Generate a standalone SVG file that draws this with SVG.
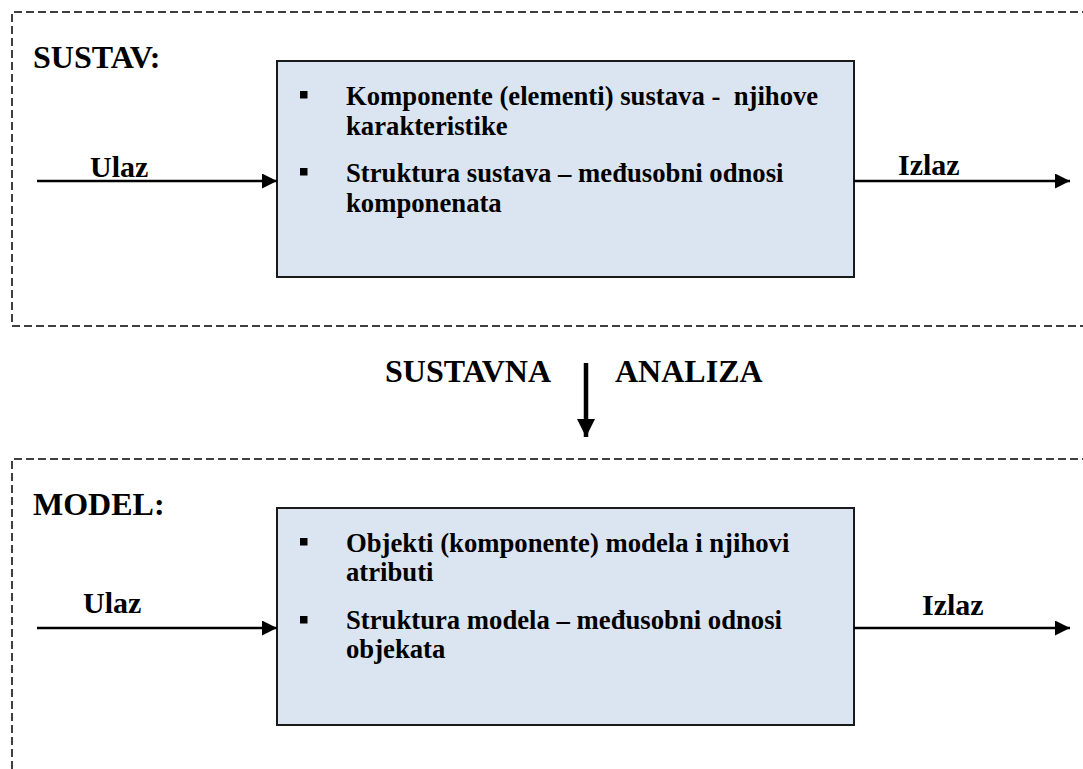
<svg xmlns="http://www.w3.org/2000/svg" width="1083" height="769" viewBox="0 0 1083 769">
<style>
  .frame { fill: none; stroke: #000; stroke-width: 1.5; stroke-dasharray: 8 4; }
  .box { fill: #DBE5F1; stroke: #1a1a1a; stroke-width: 2; }
  .title { font-weight: bold; font-size: 32px; fill: #000; }
  .label { font-weight: bold; font-size: 30px; fill: #000; }
  .item { font-weight: bold; font-size: 26.7px; fill: #000; }
  .bullet { fill: #000; }
  .conn { stroke: #000; stroke-width: 2.5; fill: none; }
  .bigconn { stroke: #000; stroke-width: 4.5; fill: none; }
</style>
<defs>
  <marker id="ah" markerWidth="6" markerHeight="6" refX="6" refY="3" orient="auto" markerUnits="strokeWidth">
    <path d="M0,0 L6,3 L0,6 Z" fill="#000"/>
  </marker>
  <marker id="ahBig" markerWidth="4" markerHeight="4" refX="4" refY="2" orient="auto" markerUnits="strokeWidth">
    <path d="M0,0 L4,2 L0,4 Z" fill="#000"/>
  </marker>
</defs>

<g font-family="Liberation Serif, Times New Roman, serif">
<g id="frame-sustav">
  <path class="frame" d="M1090,12 H12 V326 H1090"/>
  <text class="title" x="33" y="68">SUSTAV:</text>
</g>

<g id="frame-model">
  <path class="frame" d="M1090,459 H12 V780"/>
  <text class="title" x="33" y="515">MODEL:</text>
</g>

<g id="node-sustav">
  <rect class="box" x="277" y="61" width="577" height="216"/>
  <rect class="bullet" x="300" y="91" width="7.5" height="7.5"/>
  <text class="item" x="346" y="105" xml:space="preserve">Komponente (elementi) sustava -  njihove</text>
  <text class="item" x="346" y="135">karakteristike</text>
  <rect class="bullet" x="300" y="168" width="7.5" height="7.5"/>
  <text class="item" x="346" y="182">Struktura sustava – međusobni odnosi</text>
  <text class="item" x="346" y="212">komponenata</text>
</g>

<g id="node-model">
  <rect class="box" x="277" y="508" width="577" height="217"/>
  <rect class="bullet" x="300" y="538" width="7.5" height="7.5"/>
  <text class="item" x="346" y="552">Objekti (komponente) modela i njihovi</text>
  <text class="item" x="346" y="581">atributi</text>
  <rect class="bullet" x="300" y="616" width="7.5" height="7.5"/>
  <text class="item" x="346" y="629">Struktura modela – međusobni odnosi</text>
  <text class="item" x="346" y="658">objekata</text>
</g>

<g id="labels">
  <text class="label" x="90" y="177">Ulaz</text>
  <text class="label" x="898" y="175">Izlaz</text>
  <text class="label" x="83" y="613">Ulaz</text>
  <text class="label" x="922" y="615">Izlaz</text>
  <text class="title" x="385" y="382">SUSTAVNA</text>
  <text class="title" x="615" y="382">ANALIZA</text>
</g>
</g>

<g id="connectors">
  <line class="conn" x1="37" y1="181" x2="277" y2="181" marker-end="url(#ah)"/>
  <line class="conn" x1="854" y1="181" x2="1070" y2="181" marker-end="url(#ah)"/>
  <line class="conn" x1="37" y1="628" x2="277" y2="628" marker-end="url(#ah)"/>
  <line class="conn" x1="854" y1="628" x2="1070" y2="628" marker-end="url(#ah)"/>
  <line class="bigconn" x1="586" y1="363" x2="586" y2="437" marker-end="url(#ahBig)"/>
</g>
</svg>
